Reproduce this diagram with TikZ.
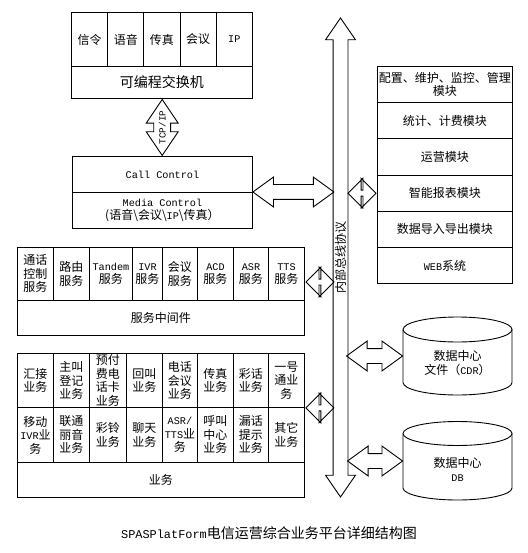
\documentclass[tikz,border=0pt]{standalone}
\usepackage{fontspec}
\setmainfont{Noto Sans CJK SC}
\setmonofont{Liberation Mono}[Scale=0.85]
\usetikzlibrary{calc, shapes.arrows}

\tikzset{
	cell/.style={draw, inner sep=0pt, align=center, anchor=north west, font=\fontsize{12}{13.5}\selectfont},
	dblarrow/.style={draw, double arrow, inner xsep=0pt, inner ysep=7pt, double arrow head extend=7.5, double arrow tip angle=72, minimum height=#1},
	diamondarrow/.style={draw, double arrow, inner xsep=0pt, inner ysep=2.5pt, double arrow head extend=12, double arrow tip angle=90, minimum height=28},
}

\begin{document}
\begin{tikzpicture}[x=1pt, y=-1pt, line width=0.9pt]
	\useasboundingbox (0,0) rectangle (527,553);

	% switch
	\foreach \t [count=\i] in {信令, 语音, 传真, 会议, \texttt{IP}}
		\node [cell, minimum width=36.2, minimum height=54] (sw\i) at ({71+36.2*(\i-1)},12) {\t};
	\node [cell, minimum width=181, minimum height=32, font=\fontsize{14}{16}\selectfont] (sw) at (71,66) {可编程交换机};

	% call control
	\node [cell, minimum width=180, minimum height=36] (cc) at (72,156) {\texttt{Call Control}};
	\node [cell, minimum width=180, minimum height=36] (mc) at (72,192) {\texttt{Media Control}\\(语音\textbackslash 会议\textbackslash\texttt{IP}\textbackslash 传真）};

	\node [dblarrow=56, inner ysep=8pt, double arrow tip angle=68, rotate=90] (swcc) at ($(sw.south)!.5!(cc.north)$) {};
	\node [rotate=90, font=\fontsize{11}{11}\ttfamily, inner sep=0pt] (swcclabel) at (swcc) {TCP/IP};

	% service middleware
	\foreach \xa/\xb/\t [count=\i] in {17/53/{通话\\控制\\服务}, 53/89/{路由\\服务}, 89/132/{\texttt{Tandem}\\服务}, 132/162/{\texttt{IVR}\\服务}, 162/197/{会议\\服务}, 197/233/{\texttt{ACD}\\服务}, 233/268/{\texttt{ASR}\\服务}, 268/304/{\texttt{TTS}\\服务}}
		\node [cell, minimum width=\xb-\xa, minimum height=53] (mw\i) at (\xa,247) {\t};
	\node [cell, minimum width=287, minimum height=35] (mw) at (17,300) {服务中间件};

	% business
	\foreach \xa/\xb/\t [count=\i] in {17/53/{汇接\\业务}, 53/89/{主叫\\登记\\业务}, 89/126/{预付\\费电\\话卡\\业务}, 126/162/{回叫\\业务}, 162/197/{电话\\会议\\业务}, 197/233/{传真\\业务}, 233/268/{彩话\\业务}, 268/304/{一号\\通业\\务}}
		\node [cell, minimum width=\xb-\xa, minimum height=54] (ya\i) at (\xa,353) {\t};
	\foreach \xa/\xb/\t [count=\i] in {17/53/{移动\\\texttt{IVR}业\\务}, 53/89/{联通\\丽音\\业务}, 89/126/{彩铃\\业务}, 126/162/{聊天\\业务}, 162/197/{\texttt{ASR/}\\\texttt{TTS}业\\务}, 197/233/{呼叫\\中心\\业务}, 233/268/{漏话\\提示\\业务}, 268/304/{其它\\业务}}
		\node [cell, minimum width=\xb-\xa, minimum height=55] (yb\i) at (\xa,407) {\t};
	\node [cell, minimum width=287, minimum height=35] (yw) at (17,462) {业务};

	% management
	\foreach \t [count=\i] in {{配置、维护、监控、管理\\模块}, 统计、计费模块, 运营模块, 智能报表模块, 数据导入导出模块, \texttt{WEB}系统}
		\node [cell, minimum width=135, minimum height=36.2] (mg\i) at (377,{66+36.2*(\i-1)}) {\t};

	% bus
	\node [dblarrow=479, double arrow tip angle=69, rotate=90] (bus) at (340.5,257.5) {};
	\node [rotate=90, font=\fontsize{12}{12}\selectfont, inner sep=0pt] (buslabel) at (340.5,257) {内部总线协议};

	\node [dblarrow=81] (ccbus) at ($(mc.north east)+(40.5,0)$) {};
	\node [diamondarrow] (mgbus) at ($(mg4.west)+(-15,0)$) {};
	\node [diamondarrow] (mwbus) at ($(mw8.north east)+(15,35)$) {};
	\node [diamondarrow] (ywbus) at ($(ya8.south east)+(15,0)$) {};

	% data centre
	\draw (457.5,329.5) ellipse [x radius=54.5, y radius=12.5];
	\draw (403,329.5) -- (403,382.5) arc [start angle=180, end angle=0, x radius=54.5, y radius=12.5] -- (512,329.5);
	\node [font=\fontsize{12}{14}\selectfont, align=center, minimum width=109, inner sep=0pt] (cdr) at (457.5,363) {数据中心\\文件（\texttt{CDR}）};

	\draw (457.5,433.5) ellipse [x radius=54.5, y radius=12];
	\draw (403,433.5) -- (403,488) arc [start angle=180, end angle=0, x radius=54.5, y radius=12] -- (512,433.5);
	\node [font=\fontsize{12}{14}\selectfont, align=center, minimum width=109, inner sep=0pt] (db) at (457.5,469) {数据中心\\\texttt{DB}};

	\node [dblarrow=56] (cdrbus) at ($(cdr.west)+(-28,-7)$) {};
	\node [dblarrow=55] (dbbus) at ($(db.west)+(-27.5,-8)$) {};

	\node [font=\fontsize{14}{16}\selectfont] (title) at (269,533) {\texttt{SPASPlatForm}电信运营综合业务平台详细结构图};
\end{tikzpicture}
\end{document}
